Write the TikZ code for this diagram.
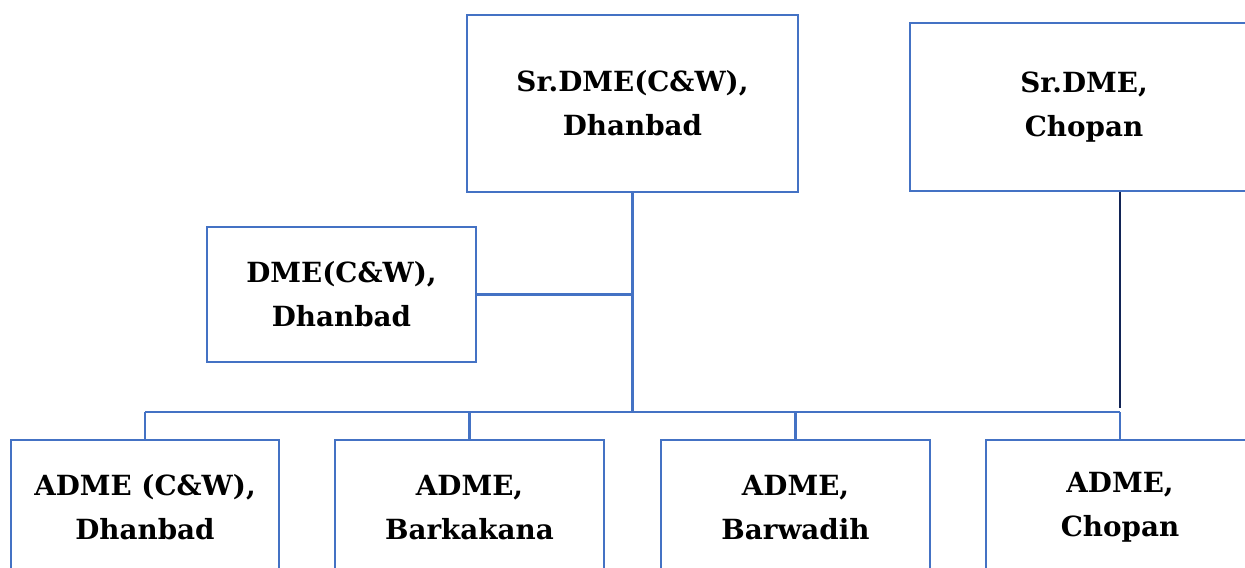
\documentclass[tikz,border=0pt]{standalone}
\usepackage{fontspec}
\setmainfont{DejaVu Serif}
\usepackage{tikz}
\usetikzlibrary{positioning}

\definecolor{boxblue}{RGB}{68,114,196}
\definecolor{navyline}{RGB}{18,36,86}

\tikzset{
    postbox/.style={draw=boxblue,line width=1.2pt,rectangle,align=center,
        font=\bfseries\fontsize{15.8}{25}\selectfont},
    link/.style={draw=boxblue,line width=1.2pt}
}

\begin{document}
\begin{tikzpicture}[x=0.02cm,y=-0.02cm]
            % page frame
            \useasboundingbox (0,0) rectangle (1245,568);
            \clip (0,0) rectangle (1245,568);

            % top row
            \node[postbox,minimum width=6.62cm,minimum height=3.54cm] (srdme) at (632.5,103.5) {Sr.DME(C\&W),\\Dhanbad};
            \node[postbox,minimum width=6.96cm,minimum height=3.36cm] (srchopan) at (1084,107) {Sr.DME,\\Chopan};

            % middle
            \node[postbox,minimum width=5.38cm,minimum height=2.7cm] (dme) at (341.5,294.5) {DME(C\&W),\\Dhanbad};

            % bottom row
            \node[postbox,minimum width=5.36cm,minimum height=2.7cm] (admea) at (145,507.5) {ADME (C\&W),\\Dhanbad};
            \node[postbox,minimum width=5.38cm,minimum height=2.7cm] (admeb) at (469.5,507.5) {ADME,\\Barkakana};
            \node[postbox,minimum width=5.38cm,minimum height=2.7cm] (admec) at (795.5,507.5) {ADME,\\Barwadih};
            \node[postbox,minimum width=5.36cm,minimum height=2.7cm] (admed) at (1120,507.5) {ADME,\\Chopan};

            \coordinate (bus) at (632.5,412);
            \coordinate (cpend) at (1120,408);

            % lines
            \draw[link] (srdme.south) -- (srdme.south |- bus);
            \draw[link] (dme.east) -- (dme.east -| srdme.south);
            \draw[link] (admea.north |- bus) -- (admed.north |- bus);
            \foreach \n in {admea,admeb,admec,admed}
                \draw[link] (\n.north |- bus) -- (\n.north);

            \draw[navyline,line width=1.4pt] (srchopan.south -| cpend) -- (cpend);

        \end{tikzpicture}
\end{document}
